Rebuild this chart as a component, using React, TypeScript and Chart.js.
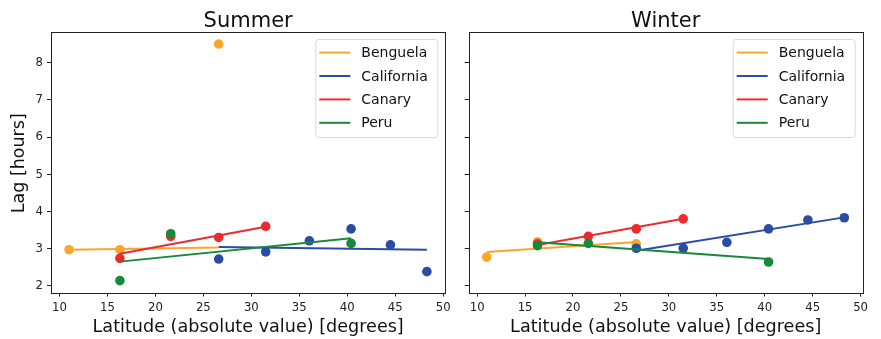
import React, { useEffect, useRef } from "react";
import { Chart, registerables } from "chart.js";
Chart.register(...registerables);

// ---- data ----
const currents = ["Benguela", "California", "Canary", "Peru"];
const currentColors = ["#FBA62A", "#2B4CA3", "#EC2B2E", "#16893B"];
const xTickValues = [10, 15, 20, 25, 30, 35, 40, 45, 50];
const yTickValues = [2, 3, 4, 5, 6, 7, 8];

const benguelaLat = [11.0, 16.3, 26.6];
const californiaLat = [26.6, 31.5, 36.05, 40.4, 44.5, 48.3];
const canaryLat = [16.3, 21.6, 26.6, 31.5];
const peruLat = [16.3, 21.6, 40.4];

const summerBenguelaLag = [2.97, 2.97, 8.5];
const summerCaliforniaLag = [2.72, 2.91, 3.21, 3.53, 3.1, 2.38];
const summerCanaryLag = [2.74, 3.33, 3.3, 3.6];
const summerPeruLag = [2.14, 3.4, 3.14];

const winterBenguelaLag = [2.77, 3.18, 3.13];
const winterCaliforniaLag = [3.01, 3.01, 3.17, 3.53, 3.77, 3.83];
const winterCanaryLag = [3.13, 3.33, 3.53, 3.8];
const winterPeruLag = [3.08, 3.14, 2.64];

// fitted line values at the min and max latitude of each current
const summerBenguelaFit = [2.97, 3.03];
const summerCaliforniaFit = [3.04, 2.97];
const summerCanaryFit = [2.86, 3.59];
const summerPeruFit = [2.65, 3.28];

const winterBenguelaFit = [2.91, 3.18];
const winterCaliforniaFit = [2.94, 3.84];
const winterCanaryFit = [3.1, 3.8];
const winterPeruFit = [3.17, 2.72];

const latitudes = [benguelaLat, californiaLat, canaryLat, peruLat];
const summerLags = [summerBenguelaLag, summerCaliforniaLag, summerCanaryLag, summerPeruLag];
const winterLags = [winterBenguelaLag, winterCaliforniaLag, winterCanaryLag, winterPeruLag];
const summerFits = [summerBenguelaFit, summerCaliforniaFit, summerCanaryFit, summerPeruFit];
const winterFits = [winterBenguelaFit, winterCaliforniaFit, winterCanaryFit, winterPeruFit];

const X_MIN = 9.12;
const X_MAX = 50.22;
const Y_MIN = 1.82;
const Y_MAX = 8.824;

const FONT = "'DejaVu Sans', sans-serif";
const TICK_FONT = "'DejaVu Sans Condensed', 'DejaVu Sans', sans-serif";

function buildDatasets(lags: number[][], fits: number[][]) {
  const ds: any[] = [];
  let order = 100;
  currents.forEach((name, i) => {
    const lat = latitudes[i];
    ds.push({
      label: name + " points",
      data: lat.map((x, j) => ({ x, y: lags[i][j] })),
      showLine: false,
      pointRadius: 4.8,
      pointHoverRadius: 4.8,
      pointBackgroundColor: currentColors[i],
      pointBorderWidth: 0,
      backgroundColor: currentColors[i],
      borderColor: currentColors[i],
      order: order--,
    });
    ds.push({
      label: name,
      data: [
        { x: Math.min(...lat), y: fits[i][0] },
        { x: Math.max(...lat), y: fits[i][1] },
      ],
      showLine: true,
      pointRadius: 0,
      borderColor: currentColors[i],
      borderWidth: 2,
      backgroundColor: currentColors[i],
      order: order--,
    });
  });
  return ds;
}

function makePlugin(title: string, showYLabel: boolean) {
  return {
    id: "decor" + title,
    afterDraw(chart: any) {
      const { ctx, chartArea } = chart;
      const a = chartArea;
      ctx.save();
      // frame
      ctx.strokeStyle = "#222";
      ctx.lineWidth = 1;
      ctx.strokeRect(Math.round(a.left) + 0.5, Math.round(a.top) + 0.5, Math.round(a.right - a.left), Math.round(a.bottom - a.top));
      // title
      ctx.fillStyle = "#111";
      ctx.font = `21px ${FONT}`;
      ctx.textAlign = "center";
      ctx.textBaseline = "alphabetic";
      const cx = (a.left + a.right) / 2;
      ctx.fillText(title, cx, 26.5);
      // x label
      ctx.font = `17.6px ${FONT}`;
      ctx.fillText("Latitude (absolute value) [degrees]", cx, 332);
      // y label
      if (showYLabel) {
        ctx.save();
        ctx.translate(24, (a.top + a.bottom) / 2 + 1);
        ctx.rotate(-Math.PI / 2);
        ctx.font = `17.5px ${FONT}`;
        ctx.fillText("Lag [hours]", 0, 0);
        ctx.restore();
      }
      // legend
      const bw = 122;
      const bh = 98;
      const bx = a.right - 8 - bw;
      const by = a.top + 7;
      ctx.beginPath();
      if ((ctx as any).roundRect) (ctx as any).roundRect(bx + 0.5, by + 0.5, bw, bh, 3);
      else ctx.rect(bx + 0.5, by + 0.5, bw, bh);
      ctx.fillStyle = "rgba(255,255,255,0.8)";
      ctx.fill();
      ctx.strokeStyle = "#d8d8d8";
      ctx.stroke();
      ctx.font = `14px ${FONT}`;
      ctx.textAlign = "left";
      ctx.textBaseline = "middle";
      currents.forEach((name, i) => {
        const y = by + 13.6 + i * 23.4;
        ctx.strokeStyle = currentColors[i];
        ctx.lineWidth = 2;
        ctx.beginPath();
        ctx.moveTo(bx + 4, y);
        ctx.lineTo(bx + 35, y);
        ctx.stroke();
        ctx.fillStyle = "#111";
        ctx.fillText(name, bx + 46, y + 1);
      });
      ctx.restore();
    },
  };
}

function makeConfig(title: string, lags: number[][], fits: number[][], isLeft: boolean, padRight: number, yWidth: number) {
  return {
    type: "scatter" as const,
    data: { datasets: buildDatasets(lags, fits) },
    plugins: [makePlugin(title, isLeft)],
    options: {
      animation: false as const,
      responsive: false,
      devicePixelRatio: 1,
      events: [],
      layout: { padding: { left: 0, right: padRight, top: 32, bottom: 0 } },
      plugins: { legend: { display: false }, tooltip: { enabled: false }, title: { display: false } },
      scales: {
        x: {
          type: "linear" as const,
          min: X_MIN,
          max: X_MAX,
          afterBuildTicks: (s: any) => {
            s.ticks = xTickValues.map((v) => ({ value: v }));
          },
          afterFit: (s: any) => {
            s.height = 46.5;
          },
          grid: { display: true, drawOnChartArea: false, drawTicks: true, tickLength: 4, color: "#222", lineWidth: 1 },
          border: { display: false },
          ticks: {
            autoSkip: false,
            maxRotation: 0,
            padding: 3,
            color: "#222",
            font: { family: TICK_FONT, size: 13 },
            callback: (v: any) => String(v),
          },
        },
        y: {
          type: "linear" as const,
          min: Y_MIN,
          max: Y_MAX,
          afterBuildTicks: (s: any) => {
            s.ticks = yTickValues.map((v) => ({ value: v }));
          },
          afterFit: (s: any) => {
            s.width = yWidth;
          },
          grid: { display: true, drawOnChartArea: false, drawTicks: true, tickLength: 4, color: "#222", lineWidth: 1 },
          border: { display: false },
          ticks: {
            autoSkip: false,
            padding: 4,
            color: "#222",
            font: { family: TICK_FONT, size: 13 },
            callback: (v: any) => (isLeft ? String(v) : ""),
          },
        },
      },
    },
  };
}

export default function App() {
  const leftRef = useRef<HTMLCanvasElement | null>(null);
  const rightRef = useRef<HTMLCanvasElement | null>(null);

  useEffect(() => {
    const c1 = new Chart(leftRef.current as HTMLCanvasElement, makeConfig("Summer", summerLags, summerFits, true, 11.7, 51) as any);
    const c2 = new Chart(rightRef.current as HTMLCanvasElement, makeConfig("Winter", winterLags, winterFits, false, 18.3, 11.7) as any);
    return () => {
      c1.destroy();
      c2.destroy();
    };
  }, []);

  return (
    <div style={{ position: "absolute", left: 0, top: 0, width: 881, height: 339, background: "#fff" }}>
      <canvas ref={leftRef} width={457} height={339} style={{ position: "absolute", left: 0, top: 0, width: 457, height: 339 }} />
      <canvas ref={rightRef} width={424} height={339} style={{ position: "absolute", left: 457, top: 0, width: 424, height: 339 }} />
    </div>
  );
}
